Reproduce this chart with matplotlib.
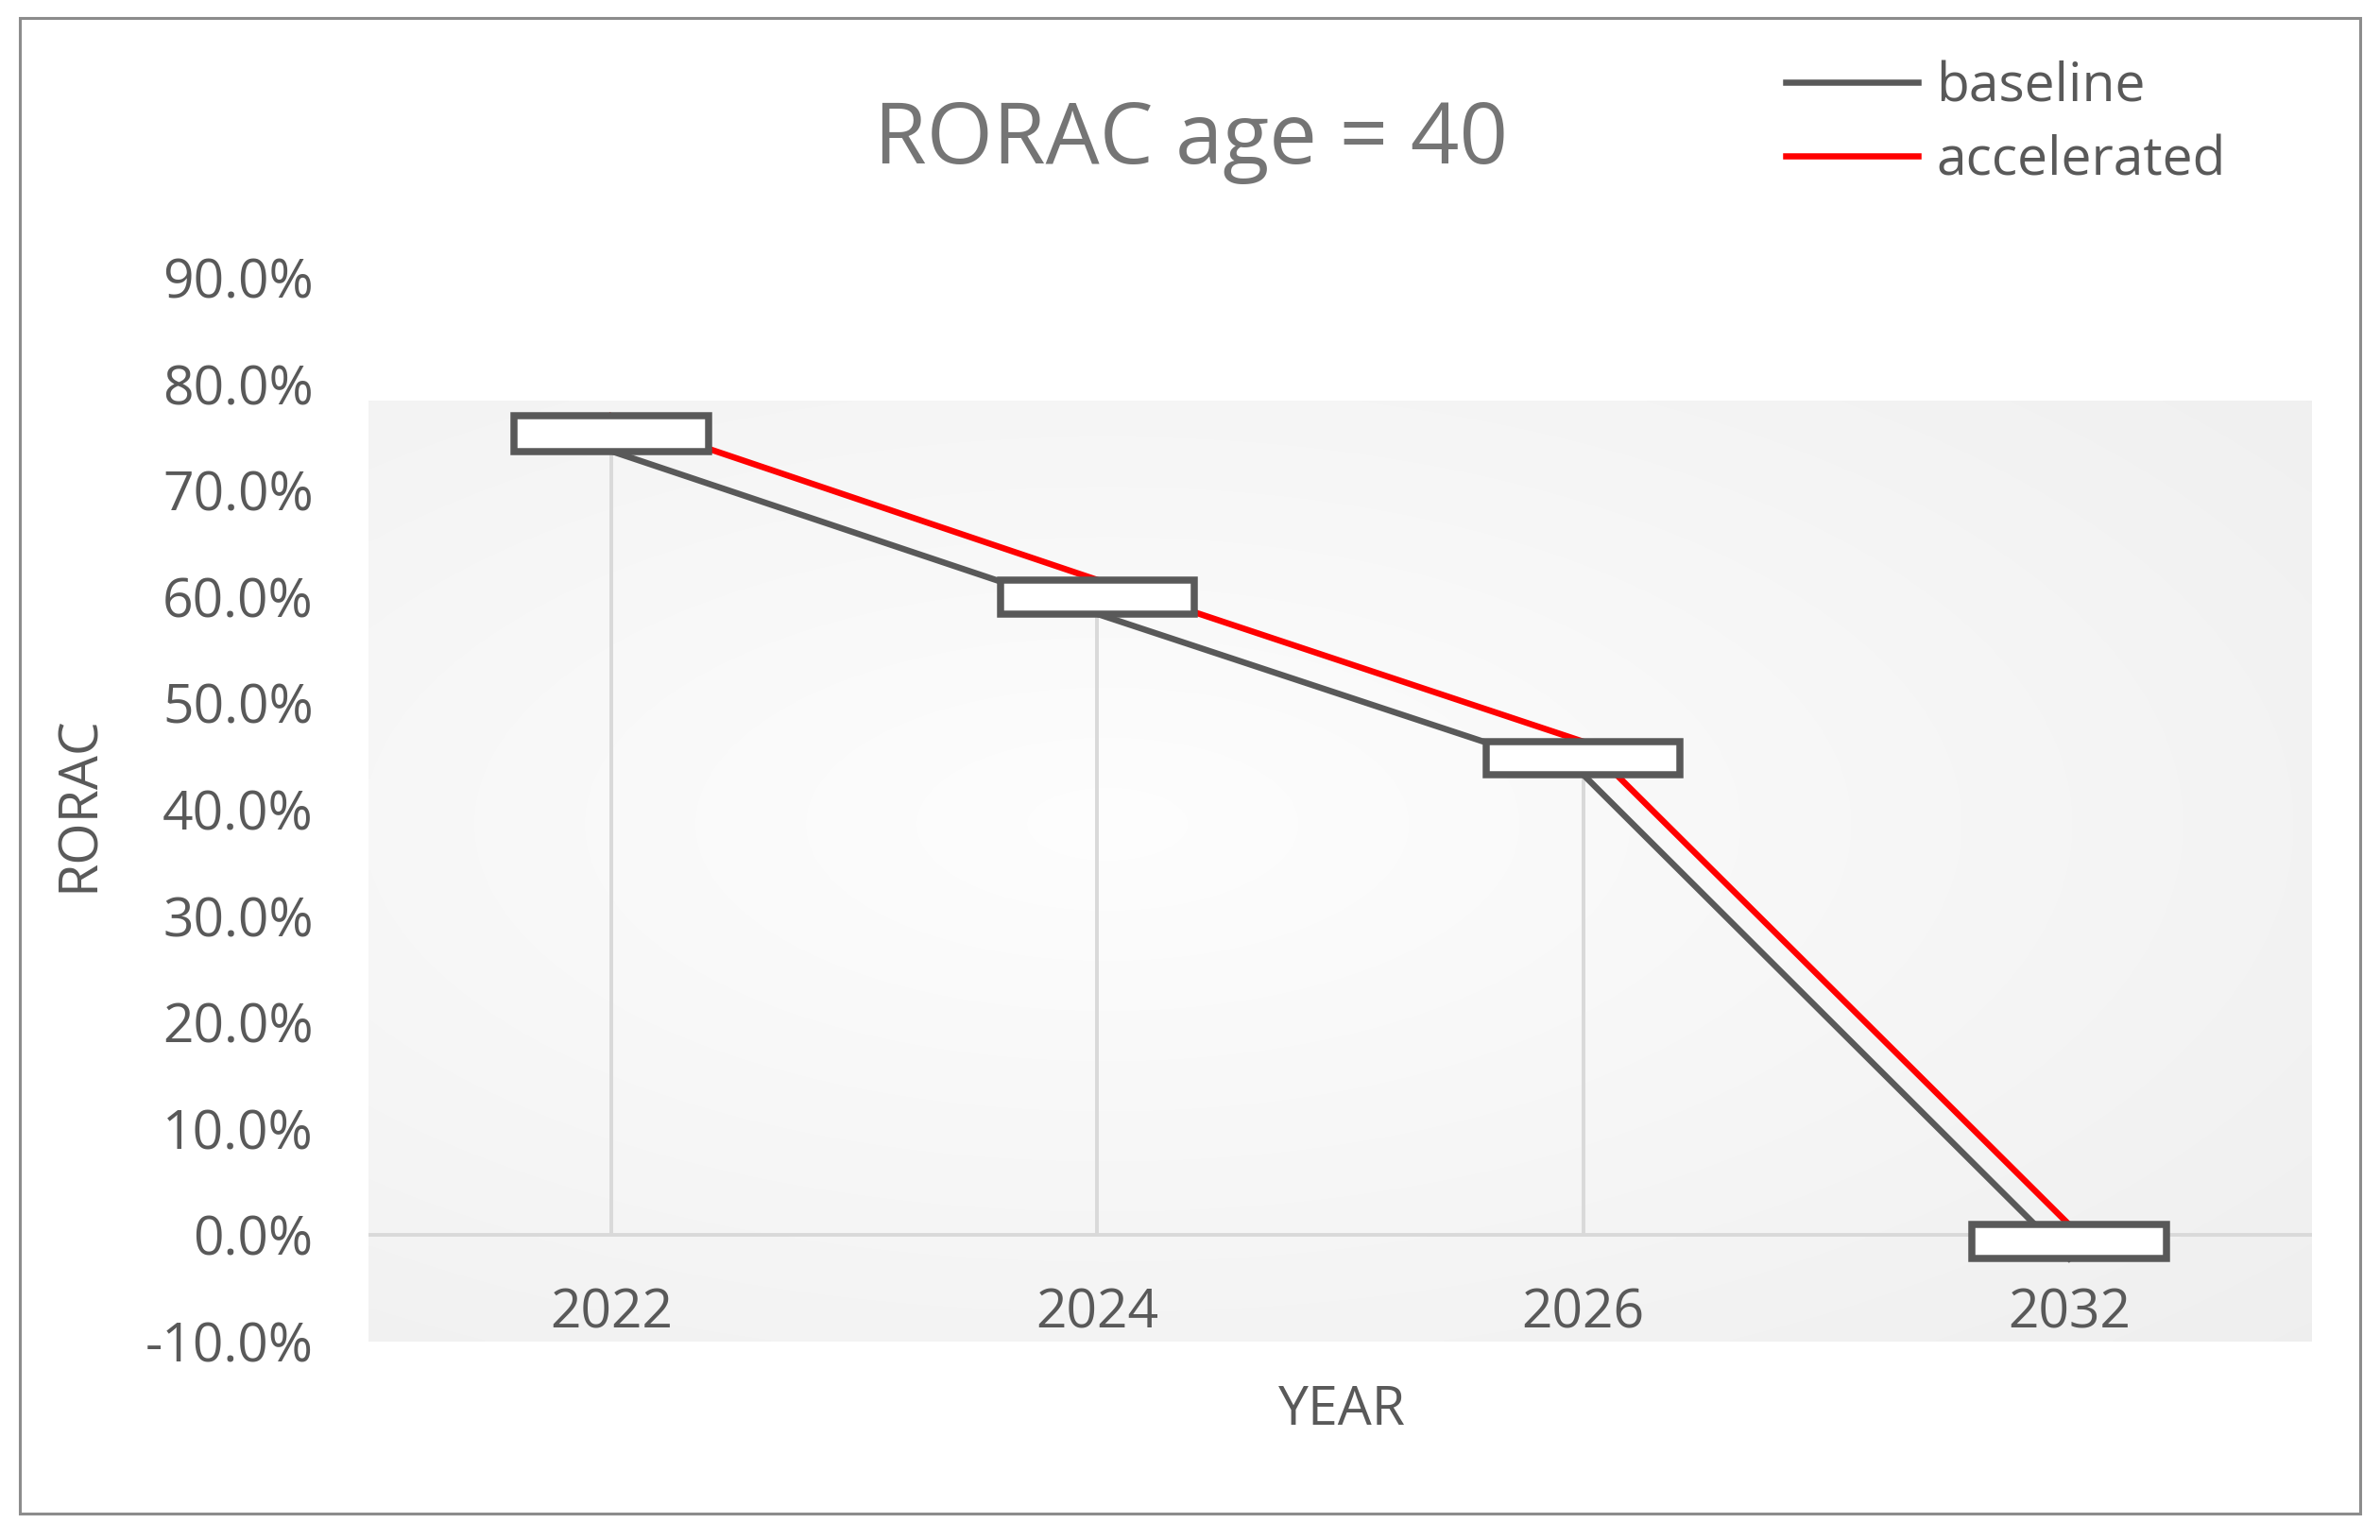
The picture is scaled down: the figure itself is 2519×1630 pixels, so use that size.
import numpy as np
import matplotlib
matplotlib.use("Agg")
import matplotlib.pyplot as plt
from matplotlib.patches import Rectangle

# ---- data ----
years = ["2022", "2024", "2026", "2032"]
baseline = [73.7, 58.4, 43.3, -2.2]      # RORAC %, baseline
accelerated = [77.0, 61.6, 46.4, 1.0]   # RORAC %, accelerated
yticks = [-10, 0, 10, 20, 30, 40, 50, 60, 70, 80, 90]
title = "RORAC age = 40"
xlabel = "YEAR"
ylabel = "RORAC"

plt.rcParams['font.family'] = ['Open Sans', 'DejaVu Sans']
TXT = '#595959'
FS = 41

W, H = 2519, 1630
fig = plt.figure(figsize=(W / 100, H / 100), dpi=100)
fig.patch.set_facecolor('white')

left, right = 390 / W, 2447 / W
bottom, top = 1 - 1420 / H, 1 - 294 / H
ax = fig.add_axes([left, bottom, right - left, top - bottom])
ax.set_facecolor('white')

x = np.arange(len(years))
ax.set_xlim(-0.5, len(years) - 0.5)
ax.set_ylim(-10, 90)

# background gradient panel (radial, light centre)
nx, ny = 400, 300
gx, gy = np.meshgrid(np.linspace(0, 1, nx), np.linspace(0, 1, ny))
r = np.sqrt(((gx - 0.38) / 0.8) ** 2 + ((gy - 0.45) / 0.75) ** 2)
val = 0.995 - 0.055 * np.clip(r, 0, 1.2)
img = np.dstack([val, val, val])
ax.imshow(img, extent=[-0.5, len(years) - 0.5, -10, 78.4], origin='upper',
          aspect='auto', zorder=0, interpolation='bilinear')

# zero axis line
ax.axhline(0, color='#d9d9d9', lw=2.8, zorder=1)

# drop lines
for xi, b, a in zip(x, baseline, accelerated):
    top_v = max(a, b)
    if top_v > 0:
        ax.vlines(xi, 0, top_v, color='#d9d9d9', lw=2.8, zorder=1)

# series lines
l1, = ax.plot(x, baseline, color='#595959', lw=4.7, zorder=2, label='baseline')
l2, = ax.plot(x, accelerated, color='#ff0000', lw=4.7, zorder=2, label='accelerated')

# up/down bars
ax.bar(x, np.array(accelerated) - np.array(baseline), bottom=baseline, width=0.4,
       color='white', edgecolor='#595959', linewidth=5.4, zorder=3)

# axes styling
for s in ax.spines.values():
    s.set_visible(False)
ax.set_yticks(yticks)
ax.set_yticklabels([f"{v:.1f}%" for v in yticks])
ax.tick_params(axis='y', length=0, pad=42, labelsize=FS, labelcolor=TXT)
ax.set_xticks([])
for xi, lab in zip(x, years):
    ax.text(xi, -7.4, lab, ha='center', va='center', fontsize=FS, color=TXT, zorder=4)

fig.text(1420 / W, 1 - 1494 / H, xlabel, ha='center', va='center', fontsize=FS, color=TXT)
fig.text(84 / W, 1 - 851 / H, ylabel, ha='center', va='center', fontsize=FS, color=TXT,
         rotation=90)
fig.text(1261 / W, 1 - 150 / H, title, ha='center', va='center', fontsize=65, color='#757575')

fig.legend(handles=[l1, l2], loc='upper left', bbox_to_anchor=(1890 / W, 1 - 64 / H),
           frameon=False, fontsize=FS, handlelength=2.45, handletextpad=0.35,
           labelspacing=0.37, borderpad=0, borderaxespad=0, labelcolor=TXT)

# outer frame
fig.add_artist(Rectangle((21 / W, 1 - 1602 / H), (2498 - 21) / W, (1602 - 19) / H,
                         transform=fig.transFigure, fill=False, edgecolor='#8c8c8c', lw=2.2))

fig.savefig('out.png', dpi=100)
